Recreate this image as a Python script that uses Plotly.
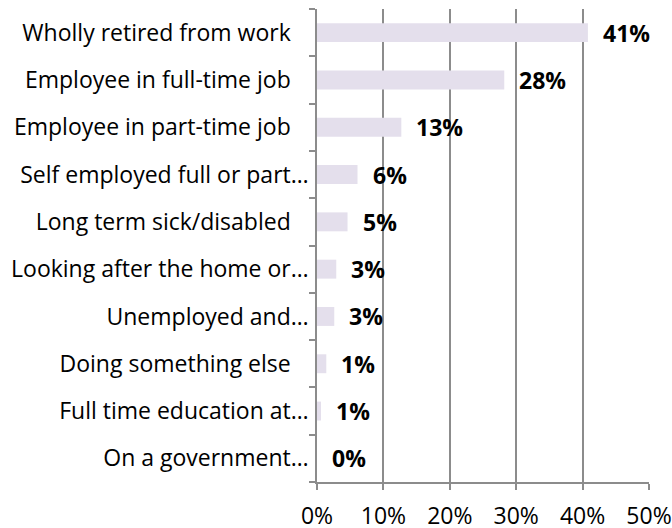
import plotly.graph_objects as go

# Survey responses: current working status (share of respondents, %)
categories = [
    "Wholly retired from work",
    "Employee in full-time job",
    "Employee in part-time job",
    "Self employed full or part…",
    "Long term sick/disabled",
    "Looking after the home or…",
    "Unemployed and…",
    "Doing something else",
    "Full time education at…",
    "On a government…",
]
shares = [40.8, 28.2, 12.7, 6.1, 4.6, 2.9, 2.6, 1.4, 0.6, 0.0]
x_ticks = [0, 10, 20, 30, 40, 50]
x_tick_labels = ["0%", "10%", "20%", "30%", "40%", "50%"]

FONT = "Open Sans"
SIZE = 23
GRID = "#8c8c8c"
BAR = "#E4DFEC"
PAD = "\u00a0\u00a0\u00a0"  # trailing room after labels that are not cut short

fig = go.Figure()
fig.add_trace(go.Bar(
    x=shares,
    y=categories,
    orientation="h",
    marker=dict(color=BAR, line=dict(width=0)),
    width=0.4,
    hoverinfo="skip",
))

# value labels to the right of each bar
for cat, val in zip(categories, shares):
    fig.add_annotation(
        x=val, y=cat, text=f"<b>{round(val):.0f}%</b>",
        showarrow=False, xanchor="left", yanchor="middle", xshift=13,
        font=dict(family=FONT, size=SIZE, color="black"),
    )

fig.update_layout(
    width=672, height=528,
    margin=dict(l=317, r=23, t=9, b=46, autoexpand=False),
    paper_bgcolor="white", plot_bgcolor="white",
    showlegend=False,
    font=dict(family=FONT, size=SIZE, color="black"),
)
fig.update_xaxes(
    range=[0, 50], tickvals=x_ticks, ticktext=x_tick_labels,
    showgrid=True, gridcolor=GRID, gridwidth=1.5,
    showline=True, linecolor=GRID, linewidth=1.5,
    ticks="outside", ticklen=6, tickcolor=GRID, tickwidth=1.5,
    ticklabelstandoff=7,
    zeroline=False, fixedrange=True, automargin=False,
)
fig.update_yaxes(
    autorange="reversed", type="category",
    tickvals=categories,
    ticktext=[c if c.endswith("…") else c + PAD for c in categories],
    showgrid=False, showline=True, linecolor=GRID, linewidth=1.5,
    ticks="outside", ticklen=6, tickcolor=GRID, tickwidth=1.5,
    tickson="boundaries", ticklabelstandoff=2,
    fixedrange=True, automargin=False,
)

fig.write_html("out.html")
